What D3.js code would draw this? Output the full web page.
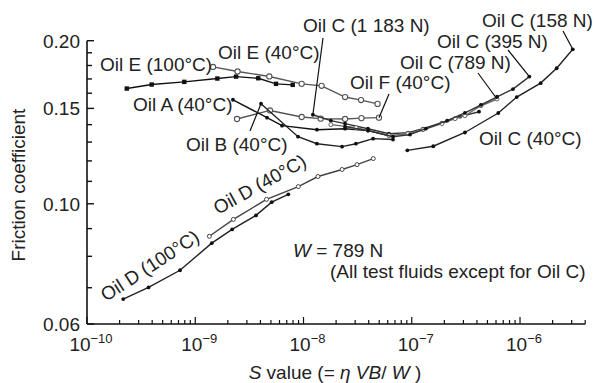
<!DOCTYPE html>
<html><head><meta charset="utf-8">
<script src="https://cdn.jsdelivr.net/npm/d3@7"></script>
<style>body{margin:0;background:#fff}svg text{font-family:"Liberation Sans",Arial,sans-serif;fill:#222}</style>
</head><body><svg id="c" width="594" height="383"></svg>
<script>
// ---- data ----
const yTickValues = [0.06, 0.10, 0.15, 0.20];
const yTickLabels = ["0.06", "0.10", "0.15", "0.20"];
const yMinorTicks = [0.07, 0.08, 0.09, 0.11, 0.12, 0.13, 0.14, 0.16, 0.17, 0.18, 0.19];
const xTickExps = [-10, -9, -8, -7, -6];

const oilE100_S = [2.33e-10, 3.96e-10, 7.92e-10, 1.60e-9, 2.38e-9, 3.82e-9, 5.57e-9, 7.95e-9];
const oilE100_f = [0.1632, 0.1660, 0.1679, 0.1703, 0.1717, 0.1705, 0.1665, 0.1658];

const oilE40_S = [1.46e-9, 2.46e-9, 4.83e-9, 9.62e-9, 1.47e-8, 2.42e-8, 3.40e-8, 4.83e-8];
const oilE40_f = [0.1789, 0.1755, 0.1718, 0.1665, 0.1651, 0.1574, 0.1554, 0.1529];

const oilF40_S = [2.43e-9, 4.90e-9, 9.62e-9, 1.44e-8, 2.42e-8, 3.43e-8, 4.98e-8];
const oilF40_f = [0.1434, 0.1487, 0.1446, 0.1436, 0.1434, 0.1439, 0.1442];

const oilA40_S = [2.23e-9, 4.60e-9, 6.33e-9, 1.33e-8, 2.42e-8, 3.94e-8, 6.16e-8];
const oilA40_f = [0.1556, 0.1442, 0.1394, 0.1370, 0.1376, 0.1365, 0.1336];

const oilB40_S = [4.05e-9, 8.90e-9, 1.33e-8, 2.27e-8, 3.05e-8, 4.39e-8, 6.71e-8];
const oilB40_f = [0.1530, 0.1330, 0.1291, 0.1275, 0.1291, 0.1319, 0.1314];

const oilC1183_S = [1.22e-8, 1.79e-8, 2.42e-8, 3.94e-8, 6.16e-8, 9.23e-8, 1.27e-7, 1.90e-7, 2.79e-7, 4.18e-7];
const oilC1183_f = [0.1460, 0.1424, 0.1406, 0.1376, 0.1347, 0.1353, 0.1376, 0.1412, 0.1448, 0.1479];

const oilC789_S = [1.79e-8, 3.05e-8, 6.16e-8, 9.23e-8, 1.27e-7, 1.90e-7, 2.51e-7, 3.10e-7, 4.36e-7, 6.13e-7];
const oilC789_f = [0.1400, 0.1382, 0.1336, 0.1347, 0.1370, 0.1406, 0.1436, 0.1454, 0.1517, 0.1561];

const oilC395_S = [2.42e-8, 3.94e-8, 6.71e-8, 9.63e-8, 1.35e-7, 2.12e-7, 3.10e-7, 4.36e-7, 6.13e-7, 8.61e-7, 1.22e-6];
const oilC395_f = [0.1388, 0.1365, 0.1330, 0.1342, 0.1376, 0.1424, 0.1472, 0.1523, 0.1576, 0.1628, 0.1717];

const oilC158_S = [9.10e-8, 1.58e-7, 3.10e-7, 6.30e-7, 9.32e-7, 1.55e-6, 2.18e-6, 3.07e-6];
const oilC158_f = [0.1255, 0.1277, 0.1354, 0.1471, 0.1574, 0.1670, 0.1779, 0.1928];

const oilD100_S = [2.16e-10, 3.70e-10, 7.23e-10, 1.42e-9, 2.19e-9, 3.64e-9, 5.08e-9, 7.24e-9];
const oilD100_f = [0.0667, 0.0701, 0.0754, 0.0846, 0.0897, 0.0952, 0.1007, 0.1041];

const oilD40_S = [1.35e-9, 2.25e-9, 4.55e-9, 8.95e-9, 1.36e-8, 2.27e-8, 3.12e-8, 4.41e-8];
const oilD40_f = [0.0871, 0.0936, 0.1019, 0.1076, 0.1123, 0.1157, 0.1181, 0.1212];

// ---- styles (kept separate from data) ----
const series = [
  {S: oilE100_S, f: oilE100_f, color: "#111", marker: "square"},
  {S: oilE40_S, f: oilE40_f, color: "#555", marker: "open"},
  {S: oilF40_S, f: oilF40_f, color: "#555", marker: "open"},
  {S: oilA40_S, f: oilA40_f, color: "#111", marker: "dot"},
  {S: oilB40_S, f: oilB40_f, color: "#222", marker: "dot"},
  {S: oilC1183_S, f: oilC1183_f, color: "#333", marker: "dot"},
  {S: oilC789_S, f: oilC789_f, color: "#666", marker: "opensmall"},
  {S: oilC395_S, f: oilC395_f, color: "#333", marker: "dot"},
  {S: oilC158_S, f: oilC158_f, color: "#222", marker: "dot"},
  {S: oilD100_S, f: oilD100_f, color: "#222", marker: "dot"},
  {S: oilD40_S, f: oilD40_f, color: "#444", marker: "opensmall"}
];

const FS = 19;
const svg = d3.select("#c");
const x = d3.scaleLog().domain([1e-10, 4e-6]).range([87, 585.2]);
const y = d3.scaleLog().domain([0.06, 0.20]).range([324, 40.7]);

// axes
const g = svg.append("g");
g.append("line").attr("x1", x(1e-10)).attr("x2", x(1e-10)).attr("y1", y(0.20)).attr("y2", y(0.06)).attr("stroke", "#111").attr("stroke-width", 1.6);
g.append("line").attr("x1", x(1e-10)).attr("x2", x(4e-6)).attr("y1", y(0.06)).attr("y2", y(0.06)).attr("stroke", "#111").attr("stroke-width", 1.6);

// y ticks (inward)
yTickValues.forEach((v, i) => {
  g.append("line").attr("x1", x(1e-10)).attr("x2", x(1e-10) + 7).attr("y1", y(v)).attr("y2", y(v)).attr("stroke", "#111").attr("stroke-width", 1.4);
  g.append("text").attr("x", 80).attr("y", y(v)).attr("dy", "0.36em").attr("text-anchor", "end").attr("font-size", FS).text(yTickLabels[i]);
});
yMinorTicks.forEach(v => {
  g.append("line").attr("x1", x(1e-10)).attr("x2", x(1e-10) + 5).attr("y1", y(v)).attr("y2", y(v)).attr("stroke", "#111").attr("stroke-width", 1.4);
});

// x ticks (inward)
const xMinor = [];
for (let e = -10; e <= -6; e++) for (let m = 2; m <= 9; m++) { const v = m * Math.pow(10, e); if (v <= 4e-6) xMinor.push(v); }
xMinor.forEach(v => {
  g.append("line").attr("x1", x(v)).attr("x2", x(v)).attr("y1", y(0.06)).attr("y2", y(0.06) - 4).attr("stroke", "#111").attr("stroke-width", 1.2);
});
xTickExps.forEach(e => {
  const v = Math.pow(10, e);
  g.append("line").attr("x1", x(v)).attr("x2", x(v)).attr("y1", y(0.06)).attr("y2", y(0.06) - 7).attr("stroke", "#111").attr("stroke-width", 1.2);
  const t = g.append("text").attr("x", x(v) + 4).attr("y", 351).attr("text-anchor", "middle").attr("font-size", FS);
  t.append("tspan").text("10");
  t.append("tspan").attr("font-size", 13).attr("dy", -8).text("\u2212" + Math.abs(e));
});

// axis titles
svg.append("text").attr("transform", "translate(25,185) rotate(-90)").attr("text-anchor", "middle").attr("font-size", FS).text("Friction coefficient");
const xt = svg.append("text").attr("x", 335).attr("y", 379).attr("text-anchor", "middle").attr("font-size", FS);
xt.append("tspan").attr("font-style", "italic").text("S");
xt.append("tspan").text(" value (= ");
xt.append("tspan").attr("font-style", "italic").text("\u03B7 VB");
xt.append("tspan").text("/ ");
xt.append("tspan").attr("font-style", "italic").text("W");
xt.append("tspan").text(" )");

// series
const line = d3.line().x(d => x(d[0])).y(d => y(d[1]));
series.forEach(s => {
  const pts = s.S.map((v, i) => [v, s.f[i]]);
  svg.append("path").datum(pts).attr("d", line).attr("fill", "none").attr("stroke", s.color).attr("stroke-width", 1.4);
  const mg = svg.append("g");
  pts.forEach(p => {
    if (s.marker === "square") {
      mg.append("rect").attr("x", x(p[0]) - 2.2).attr("y", y(p[1]) - 2.2).attr("width", 4.4).attr("height", 4.4).attr("fill", "#111");
    } else if (s.marker === "open") {
      mg.append("circle").attr("cx", x(p[0])).attr("cy", y(p[1])).attr("r", 2.6).attr("fill", "#fff").attr("stroke", s.color).attr("stroke-width", 1.1);
    } else if (s.marker === "opensmall") {
      mg.append("circle").attr("cx", x(p[0])).attr("cy", y(p[1])).attr("r", 2).attr("fill", "#fff").attr("stroke", s.color).attr("stroke-width", 1);
    } else {
      mg.append("circle").attr("cx", x(p[0])).attr("cy", y(p[1])).attr("r", 1.9).attr("fill", "#111");
    }
  });
});

// labels
const labels = [
  {t: "Oil E (100\u00B0C)", x: 100, y: 71},
  {t: "Oil E (40\u00B0C)", x: 218, y: 59},
  {t: "Oil A (40\u00B0C)", x: 133, y: 111},
  {t: "Oil B (40\u00B0C)", x: 186, y: 151},
  {t: "Oil C (1 183 N)", x: 303, y: 32},
  {t: "Oil F (40\u00B0C)", x: 350, y: 89},
  {t: "Oil C (789 N)", x: 400, y: 69},
  {t: "Oil C (395 N)", x: 437, y: 48},
  {t: "Oil C (158 N)", x: 482, y: 27},
  {t: "Oil C (40\u00B0C)", x: 479, y: 145}
];
labels.forEach(l => svg.append("text").attr("x", l.x).attr("y", l.y).attr("font-size", FS).text(l.t));
svg.append("text").attr("transform", "translate(106,302) rotate(-33)").attr("font-size", FS).text("Oil D (100\u00B0C)");
svg.append("text").attr("transform", "translate(218,215) rotate(-29)").attr("font-size", FS).text("Oil D (40\u00B0C)");

const wt = svg.append("text").attr("x", 293).attr("y", 257).attr("font-size", FS);
wt.append("tspan").attr("font-style", "italic").text("W");
wt.append("tspan").text(" = 789 N");
svg.append("text").attr("x", 330).attr("y", 278).attr("font-size", FS).text("(All test fluids except for Oil C)");

// leader lines: label side position -> data point
const leaders = [
  {x1: 250, y1: 131, S: oilB40_S[0], f: oilB40_f[0]},
  {x1: 323, y1: 38, S: oilC1183_S[0], f: oilC1183_f[0]},
  {x1: 389, y1: 94, S: oilF40_S[6], f: oilF40_f[6]},
  {x1: 478, y1: 73, S: oilC789_S[9], f: oilC789_f[9]},
  {x1: 508, y1: 50, S: oilC395_S[10], f: oilC395_f[10]},
  {x1: 563, y1: 31, S: oilC158_S[7], f: oilC158_f[7]}
];
leaders.forEach(l => svg.append("line").attr("x1", l.x1).attr("y1", l.y1).attr("x2", x(l.S)).attr("y2", y(l.f)).attr("stroke", "#111").attr("stroke-width", 1.2));
</script></body></html>
